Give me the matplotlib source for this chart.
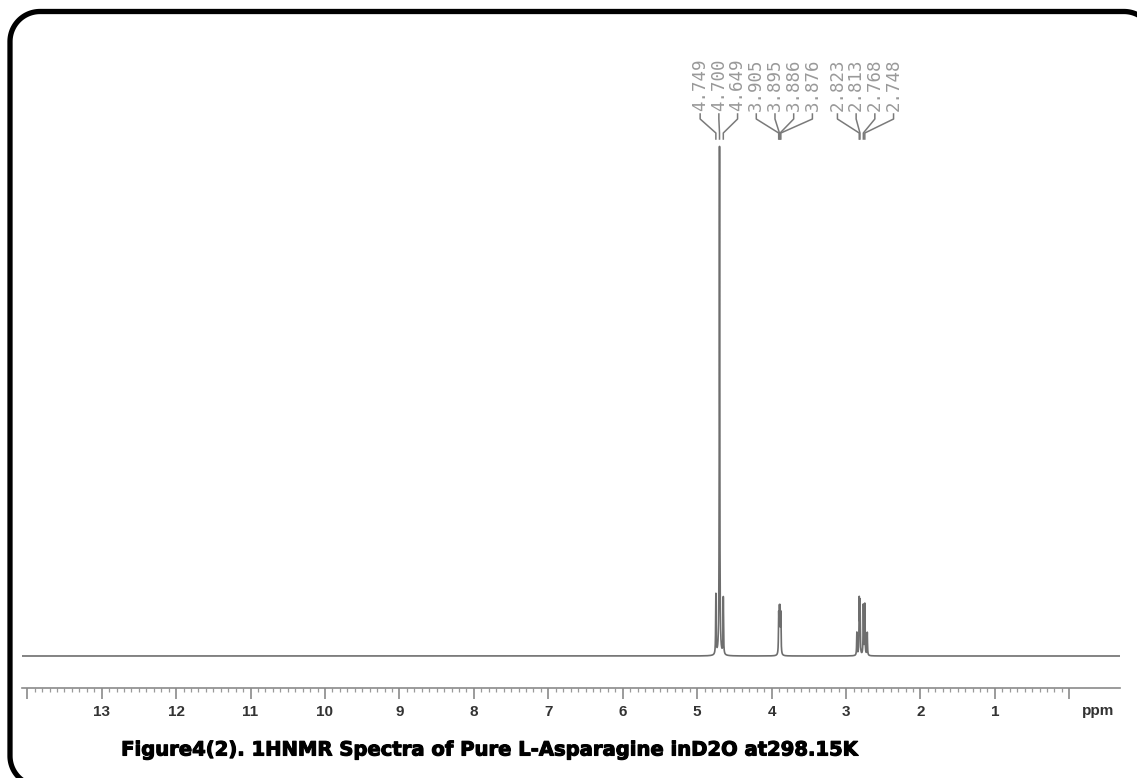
import numpy as np
import matplotlib
matplotlib.use('Agg')
import matplotlib.pyplot as plt
from matplotlib import transforms
import matplotlib.patheffects as pe

# peak list (ppm, relative height)
peak_ppm = [4.749, 4.700, 4.649,
            3.905, 3.895, 3.886, 3.876,
            2.855, 2.823, 2.813, 2.768, 2.748, 2.715]
peak_height = [0.118, 1.0, 0.112,
               0.076, 0.080, 0.080, 0.076,
               0.045, 0.105, 0.100, 0.098, 0.100, 0.045]
peak_width = 0.0035

# labelled peaks shown at the top
label_groups = [['4.749', '4.700', '4.649'],
                ['3.905', '3.895', '3.886', '3.876'],
                ['2.823', '2.813', '2.768', '2.748']]

ticks_major = list(range(0, 15))
tick_labels = ['', '1', '2', '3', '4', '5', '6', '7', '8', '9', '10', '11', '12', '13', '']
caption = 'Figure4(2). 1HNMR Spectra of Pure L-Asparagine inD2O at298.15K'

W, H = 1137, 778
fig = plt.figure(figsize=(W / 100, H / 100), dpi=100)

# pixel overlay, y measured from the bottom
over = fig.add_axes([0, 0, 1, 1])
over.set_xlim(0, W)
over.set_ylim(0, H)
over.axis('off')

# spectrum axes
ax = fig.add_axes([22 / W, (H - 688) / H, (1120 - 22) / W, (688 - 140) / H])
x = np.linspace(14.07, -0.68, 120000)
y = np.zeros_like(x)
for p, h in zip(peak_ppm, peak_height):
    y += h / (1 + ((x - p) / peak_width) ** 2)
ax.plot(x, y, color='#6e6e6e', lw=1.2)
ax.set_xlim(14.07, -0.68)
ax.set_ylim(-32 / 509, 516 / 509)
for s in ['top', 'left', 'right']:
    ax.spines[s].set_visible(False)
ax.spines['bottom'].set_color('#8a8a8a')
ax.spines['bottom'].set_linewidth(1.2)
ax.set_yticks([])
ax.set_xticks(ticks_major)
ax.set_xticklabels(tick_labels, fontsize=11, fontweight='bold', color='#333333',
                   family='Liberation Sans')
ax.set_xticks(np.arange(0, 14.05, 0.1), minor=True)
ax.tick_params(axis='x', which='major', length=8, width=1.2, color='#8a8a8a', pad=4)
ax.tick_params(axis='x', which='minor', length=3, width=0.9, color='#9a9a9a')
ax.text(-0.38, -0.03, 'ppm', transform=transforms.blended_transform_factory(ax.transData, ax.transAxes),
        ha='center', va='top', fontsize=11, fontweight='bold', color='#333333', family='Liberation Sans')

# peak labels with connector lines
tr = transforms.blended_transform_factory(ax.transData, over.transData)
step = 0.2513
lab_x = []
pos = 4.96
for gi, g in enumerate(label_groups):
    if gi == 2:
        pos -= 0.085
    for lab in g:
        lab_x.append(pos)
        pos -= step
labels = [l for g in label_groups for l in g]
for lx, lab in zip(lab_x, labels):
    px = float(lab)
    ax.text(lx, H - 111, lab, transform=tr, rotation=90, ha='center', va='bottom',
            fontsize=12.5, family='DejaVu Sans Mono', color='#999999')
    ax.plot([lx, lx, px, px], [H - 114, H - 119, H - 133, H - 139], transform=tr,
            color='#7a7a7a', lw=1.1, clip_on=False)

# caption
fig.text(490 / W, 1 - 750 / H, caption, ha='center', va='center', fontsize=14.1,
         fontweight='bold', family='DejaVu Sans', color='black',
         path_effects=[pe.withStroke(linewidth=0.8, foreground='black')])

# rounded border (runs off the right and bottom edges)
x0, x1, top, bot, r = 10, 1154, H - 11.5, H - 786, 30
t = np.linspace(0, np.pi / 2, 30)
bx = np.concatenate([x1 - r + r * np.cos(t), x0 + r - r * np.sin(t),
                     x0 + r - r * np.cos(t), x1 - r + r * np.sin(t), [x1]])
by = np.concatenate([top - r + r * np.sin(t), top - r + r * np.cos(t),
                     bot + r - r * np.sin(t), bot + r - r * np.cos(t), [top - r]])
over.plot(bx, by, color='black', lw=3.8, clip_on=False, solid_joinstyle='round')

fig.savefig('out.png', dpi=100)
